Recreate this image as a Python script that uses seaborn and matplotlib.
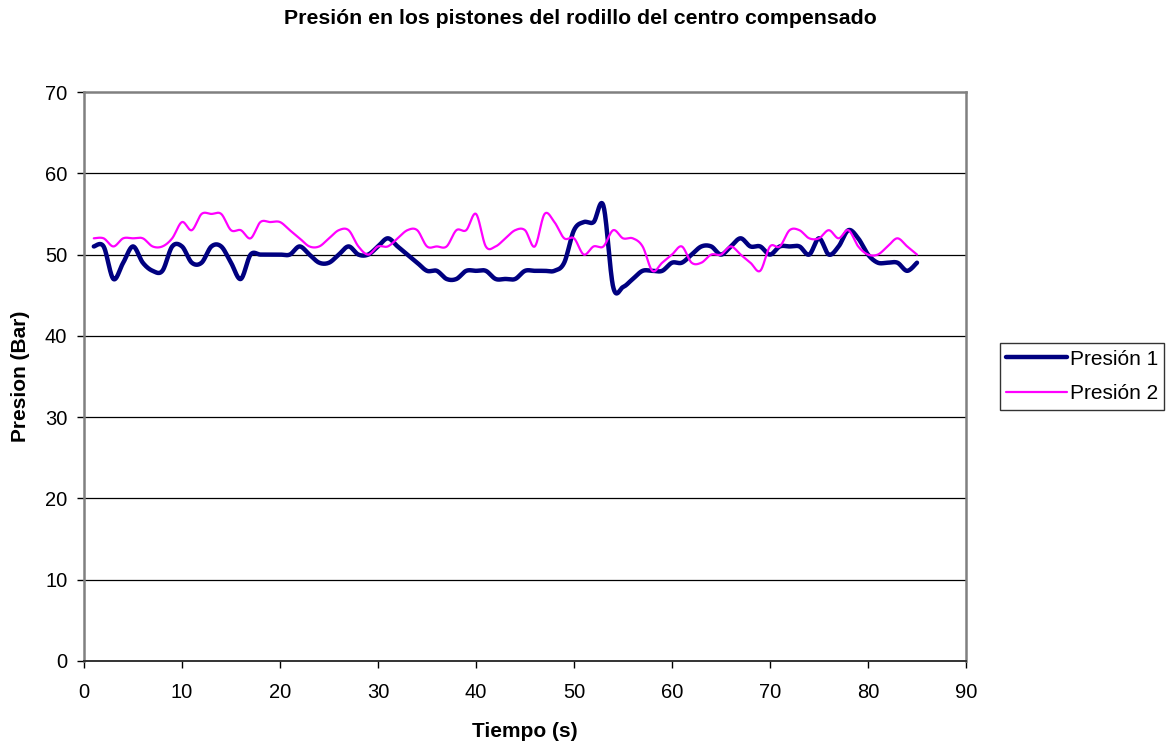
import numpy as np
import pandas as pd
import matplotlib
matplotlib.use("Agg")
import matplotlib.pyplot as plt
import seaborn as sns

# Time in seconds and the two piston pressure readings (bar)
tiempo = list(range(1, 86))
presion_1 = [51, 51, 47, 49, 51, 49, 48, 48, 51, 51,
             49, 49, 51, 51, 49, 47, 50, 50, 50, 50,
             50, 51, 50, 49, 49, 50, 51, 50, 50, 51,
             52, 51, 50, 49, 48, 48, 47, 47, 48, 48,
             48, 47, 47, 47, 48, 48, 48, 48, 49, 53,
             54, 54, 56, 46, 46, 47, 48, 48, 48, 49,
             49, 50, 51, 51, 50, 51, 52, 51, 51, 50,
             51, 51, 51, 50, 52, 50, 51, 53, 52, 50,
             49, 49, 49, 48, 49]
presion_2 = [52, 52, 51, 52, 52, 52, 51, 51, 52, 54,
             53, 55, 55, 55, 53, 53, 52, 54, 54, 54,
             53, 52, 51, 51, 52, 53, 53, 51, 50, 51,
             51, 52, 53, 53, 51, 51, 51, 53, 53, 55,
             51, 51, 52, 53, 53, 51, 55, 54, 52, 52,
             50, 51, 51, 53, 52, 52, 51, 48, 49, 50,
             51, 49, 49, 50, 50, 51, 50, 49, 48, 51,
             51, 53, 53, 52, 52, 53, 52, 53, 51, 50,
             50, 51, 52, 51, 50]
series_names = ["Presión 1", "Presión 2"]
y_ticks = [0, 10, 20, 30, 40, 50, 60, 70]
x_ticks = [0, 10, 20, 30, 40, 50, 60, 70, 80, 90]


def smooth(x, y, n=24):
    """Catmull-Rom spline through the points (smoothed line style)."""
    x = np.asarray(x, float)
    y = np.asarray(y, float)
    px = np.concatenate([[x[0]], x, [x[-1]]])
    py = np.concatenate([[y[0]], y, [y[-1]]])
    xs, ys = [], []
    t = np.linspace(0, 1, n, endpoint=False)
    for i in range(1, len(px) - 2):
        p0x, p1x, p2x, p3x = px[i - 1:i + 3]
        p0y, p1y, p2y, p3y = py[i - 1:i + 3]
        # Bezier control points from neighbouring points
        c1x, c1y = p1x + (p2x - p0x) / 6, p1y + (p2y - p0y) / 6
        c2x, c2y = p2x - (p3x - p1x) / 6, p2y - (p3y - p1y) / 6
        b0 = (1 - t) ** 3
        b1 = 3 * (1 - t) ** 2 * t
        b2 = 3 * (1 - t) * t ** 2
        b3 = t ** 3
        xs.append(b0 * p1x + b1 * c1x + b2 * c2x + b3 * p2x)
        ys.append(b0 * p1y + b1 * c1y + b2 * c2y + b3 * p2y)
    xs.append([x[-1]])
    ys.append([y[-1]])
    return np.concatenate(xs), np.concatenate(ys)


frames = []
for name, vals in zip(series_names, [presion_1, presion_2]):
    sx, sy = smooth(tiempo, vals)
    frames.append(pd.DataFrame({"Tiempo": sx, "Presion": sy, "Serie": name}))
df = pd.concat(frames, ignore_index=True)

sns.set_style("white")
plt.rcParams["font.family"] = ["Liberation Sans", "DejaVu Sans"]
plt.rcParams["text.color"] = "black"
plt.rcParams["axes.labelcolor"] = "black"
plt.rcParams["xtick.color"] = "black"
plt.rcParams["ytick.color"] = "black"

fig = plt.figure(figsize=(11.72, 7.42), dpi=100)
ax = fig.add_axes([84 / 1172, 1 - 661 / 742, (966 - 84) / 1172, (661 - 92) / 742])

palette = {"Presión 1": "#000080", "Presión 2": "#FF00FF"}
widths = {"Presión 1": 3.2, "Presión 2": 1.6}
for name in series_names:
    sns.lineplot(data=df[df["Serie"] == name], x="Tiempo", y="Presion",
                 color=palette[name], linewidth=widths[name], sort=False,
                 ax=ax, label=name, zorder=3 if name == "Presión 1" else 4)

ax.set_xlim(0, 90)
ax.set_ylim(0, 70)
ax.set_xticks(x_ticks)
ax.set_yticks(y_ticks)
ax.tick_params(axis="both", labelsize=14.5, direction="out", length=5, width=1,
               color="black", bottom=True, left=True)
ax.tick_params(axis="x", pad=11)
ax.tick_params(axis="y", pad=7)
for y in y_ticks[1:-1]:
    ax.axhline(y, color="black", linewidth=0.9, zorder=1)

for side in ["top", "right", "left"]:
    ax.spines[side].set_color("#808080")
    ax.spines[side].set_linewidth(1.8)
ax.spines["bottom"].set_color("#333333")
ax.spines["bottom"].set_linewidth(1.4)

ax.set_xlabel("Tiempo (s)", fontsize=15, fontweight="bold", labelpad=14)
ax.set_ylabel("Presion (Bar)", fontsize=15, fontweight="bold", labelpad=11)
fig.suptitle("Presión en los pistones del rodillo del centro compensado",
             fontsize=15.3, fontweight="bold", x=580 / 1172, y=1 - 9 / 742, va="top")

leg = ax.legend(loc="center left", bbox_to_anchor=(1.0 + 34 / 882, 0.5),
                borderaxespad=0, fontsize=15, frameon=True, fancybox=False,
                handlelength=2.9, handletextpad=0.15, borderpad=0.3,
                labelspacing=0.75)
leg.get_frame().set_edgecolor("black")
leg.get_frame().set_linewidth(1.0)

fig.savefig("out.png", dpi=100, facecolor="white")
